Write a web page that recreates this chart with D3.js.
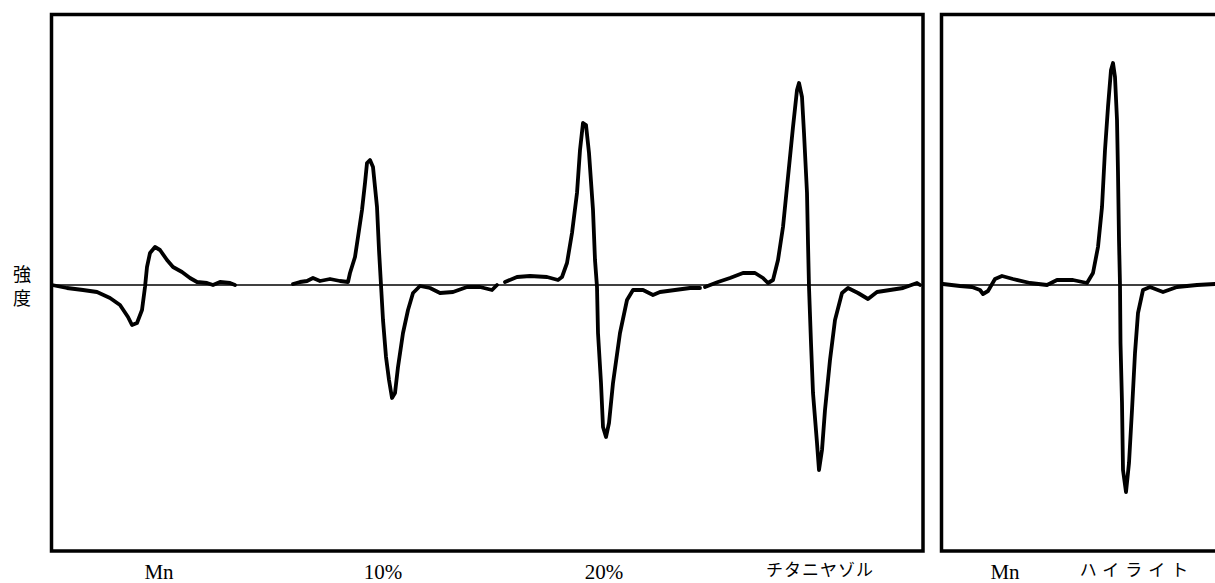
<!DOCTYPE html>
<html>
<head>
<meta charset="utf-8">
<script src="https://cdn.jsdelivr.net/npm/d3@7"></script>
<style>
  body { margin: 0; background: #fff; }
  svg { display: block; }
</style>
</head>
<body>
<svg id="chart" width="1215" height="583"></svg>
<script>
// ESR-like traces, field in arbitrary units, intensity in arbitrary units (0 = baseline)
const mnField = [2, 17, 33, 47, 60, 70, 78, 82, 87, 92, 95, 97, 100, 105, 110, 117, 123, 132, 140, 147, 157, 163, 170, 180, 185];
const mnSignal = [0, -3, -5, -7, -13, -20, -32, -40, -38, -25, -2, 18, 32, 38, 35, 25, 18, 13, 7, 3, 2, 0, 3, 2, 0];

const ti10Field = [243, 250, 257, 263, 270, 280, 290, 298, 300, 305, 308, 312, 315, 317, 320, 323, 327, 329, 331, 333, 336, 339, 342, 345, 348, 353, 358, 363, 370, 380, 390, 403, 417, 430, 442, 447];
const ti10Signal = [1, 3, 4, 7, 4, 6, 4, 3, 12, 28, 48, 75, 102, 122, 125, 118, 78, 35, 0, -35, -72, -95, -113, -108, -82, -48, -25, -8, -1, -3, -8, -7, -2, -2, -5, 0];

const ti20Field = [455, 467, 480, 497, 508, 512, 517, 522, 527, 530, 533, 536, 539, 543, 545, 547, 548, 551, 553, 556, 559, 563, 570, 577, 583, 593, 603, 610, 625, 640, 650];
const ti20Signal = [3, 8, 9, 8, 5, 8, 22, 52, 92, 135, 162, 160, 132, 75, 25, -2, -48, -98, -142, -152, -138, -98, -48, -15, -5, -5, -10, -7, -5, -3, -3];

const solField = [655, 668, 680, 693, 705, 713, 718, 723, 728, 733, 738, 743, 747, 749, 752, 754, 757, 758, 759, 761, 763, 767, 769, 772, 775, 780, 785, 792, 798, 808, 818, 827, 840, 853, 867, 870];
const solSignal = [-2, 3, 7, 12, 12, 7, 2, 5, 25, 58, 108, 158, 195, 202, 188, 152, 92, 42, -2, -58, -108, -158, -185, -165, -125, -75, -35, -8, -3, -8, -14, -7, -5, -3, 2, 0];

const hlField = [3, 20, 32, 40, 43, 48, 55, 62, 73, 90, 107, 117, 133, 147, 153, 158, 162, 165, 168, 171, 173, 175, 177, 178, 179, 180, 180.5, 182, 183, 186, 189, 192, 195, 198, 203, 210, 223, 237, 257, 275];
const hlSignal = [1, -1, -2, -5, -9, -6, 6, 9, 6, 2, 0, 5, 5, 2, 12, 38, 78, 135, 178, 215, 222, 208, 165, 112, 45, 0, -58, -118, -185, -207, -178, -125, -68, -28, -5, -2, -7, -2, 0, 1];

const leftLabels = [
  { text: "Mn", at: 109 },
  { text: "10%", at: 333 },
  { text: "20%", at: 554 },
  { text: "チタニヤゾル", at: 770 }
];
const rightLabels = [
  { text: "Mn", at: 65 },
  { text: "ハイライト", at: 197 }
];

const svg = d3.select("#chart");
const serif = "'Liberation Serif', 'DejaVu Serif', serif";
const jp = "'Noto Sans CJK JP', sans-serif";

const y = d3.scaleLinear().domain([-266, 272]).range([551, 13]);
const xLeft = d3.scaleLinear().domain([0, 873]).range([50, 923]);
const xRight = d3.scaleLinear().domain([0, 275]).range([940, 1215]);

const line = xs => d3.line()
  .x(d => xs(d[0]))
  .y(d => y(d[1]))
  .curve(d3.curveLinear);

function drawPanel(xs, x0, x1, traces, labels, closeRight) {
  const g = svg.append("g");
  // baseline
  g.append("line")
    .attr("x1", xs(x0)).attr("x2", xs(x1))
    .attr("y1", y(0)).attr("y2", y(0))
    .attr("stroke", "#000").attr("stroke-width", 1.6);

  traces.forEach(([fx, sy]) => {
    g.append("path")
      .datum(fx.map((f, i) => [f, sy[i]]))
      .attr("d", line(xs))
      .attr("fill", "none")
      .attr("stroke", "#000")
      .attr("stroke-width", 3.8)
      .attr("stroke-linejoin", "round")
      .attr("stroke-linecap", "round");
  });

  // frame
  const [yb, yt] = y.range();
  const left = xs.range()[0] + 1.5, right = xs.range()[1];
  let d = `M${right + 10},${yt + 1.5} L${left},${yt + 1.5} L${left},${yb} L${right + 10},${yb}`;
  if (closeRight) d = `M${left},${yt + 1.5} L${right},${yt + 1.5} L${right},${yb} L${left},${yb} Z`;
  g.append("path")
    .attr("d", d)
    .attr("fill", "none")
    .attr("stroke", "#000")
    .attr("stroke-width", 3.5);

  labels.forEach(l => {
    const isLatin = /^[A-Za-z0-9%]+$/.test(l.text);
    g.append("text")
      .attr("x", xs(l.at))
      .attr("y", isLatin ? 579 : 576)
      .attr("text-anchor", "middle")
      .attr("font-family", isLatin ? serif : jp)
      .attr("font-size", isLatin ? 21 : 17)
      .attr("letter-spacing", l.text === "ハイライト" ? 6 : (isLatin ? 0 : 1))
      .attr("fill", "#000")
      .text(l.text);
  });
}

drawPanel(xLeft, 2, 872, [
  [mnField, mnSignal],
  [ti10Field, ti10Signal],
  [ti20Field, ti20Signal],
  [solField, solSignal]
], leftLabels, true);

drawPanel(xRight, 2, 275, [
  [hlField, hlSignal]
], rightLabels, false);

// y-axis title, stacked vertically
["強", "度"].forEach((ch, i) => {
  svg.append("text")
    .attr("x", 22)
    .attr("y", 281 + i * 24)
    .attr("font-family", jp)
    .attr("font-size", 18)
    .attr("text-anchor", "middle")
    .attr("fill", "#000")
    .text(ch);
});
</script>
</body>
</html>
